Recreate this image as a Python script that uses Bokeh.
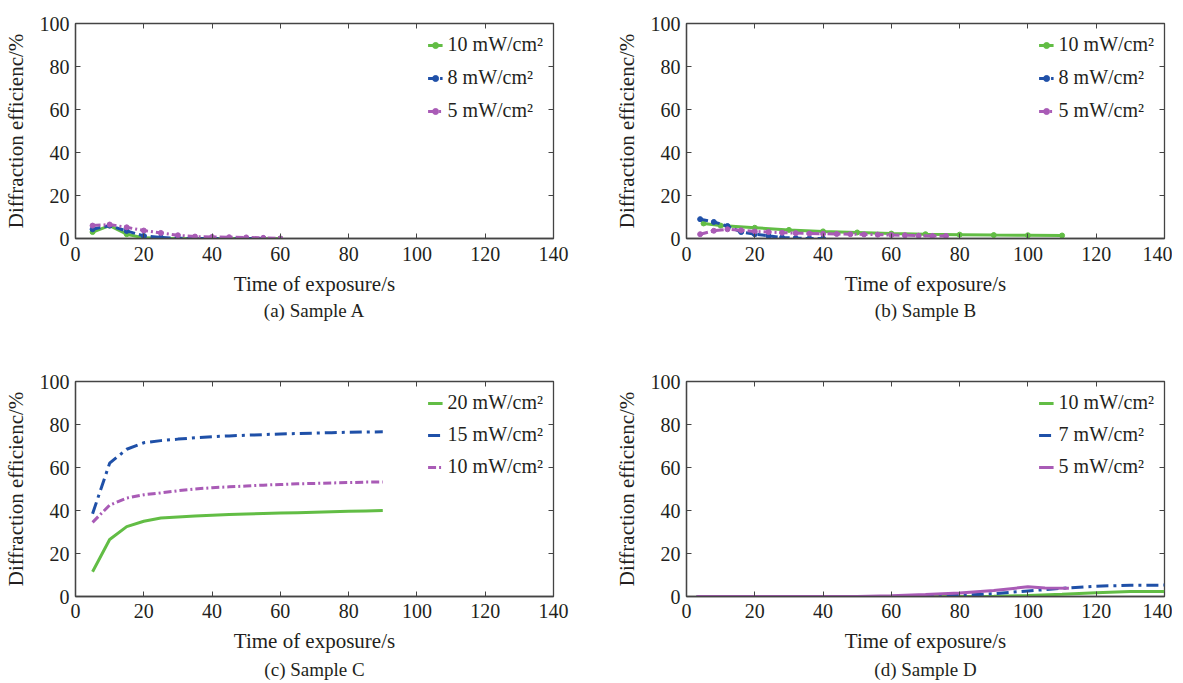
from bokeh.plotting import figure
from bokeh.models import LinearAxis, Range1d, Title, FixedTicker, CustomJSTickFormatter
from bokeh.layouts import column, row
from bokeh.embed import file_html
from bokeh.resources import INLINE

FONT = "Liberation Serif"
TXT = "#231f20"
GREEN = "#62bd45"
BLUE = "#1f50a8"
PURPLE = "#a95bb6"

x_ticks = [0, 20, 40, 60, 80, 100, 120, 140]
y_ticks = [0, 20, 40, 60, 80, 100]
x_label = "Time of exposure/s"
y_label = "Diffraction efficienc/%"

# ---- Sample A ----
a_labels = ["10 mW/cm²", "8 mW/cm²", "5 mW/cm²"]
a_x_10 = [5, 10, 15, 20, 25, 30, 35, 40, 45, 50, 55, 60]
a_y_10 = [3.0, 6.0, 2.0, 0.3, 0.1, 0, 0, 0, 0, 0, 0, 0]
a_x_8 = [5, 10, 15, 20, 25, 30, 35, 40, 45, 50, 55]
a_y_8 = [4.3, 6.0, 3.5, 1.2, 0.5, 0.1, 0, 0, 0, 0, 0]
a_x_5 = [5, 10, 15, 20, 25, 30, 35, 40, 45, 50, 55, 60]
a_y_5 = [6.0, 6.5, 5.2, 3.7, 2.6, 1.5, 0.9, 0.7, 0.6, 0.5, 0.3, 0]

# ---- Sample B ----
b_labels = ["10 mW/cm²", "8 mW/cm²", "5 mW/cm²"]
b_x_10 = [5, 10, 20, 30, 40, 50, 60, 70, 80, 90, 100, 110]
b_y_10 = [7.0, 6.0, 5.0, 4.0, 3.3, 2.8, 2.3, 2.0, 1.8, 1.6, 1.5, 1.4]
b_x_8 = [4, 8, 12, 16, 20, 24, 28, 32, 36, 40]
b_y_8 = [9.0, 7.7, 5.8, 3.0, 2.0, 1.2, 0.5, 0.2, 0, 0]
b_x_5 = [4, 8, 12, 16, 20, 24, 28, 32, 36, 40, 44, 48, 52, 56, 60, 64, 68, 72, 76]
b_y_5 = [2.0, 3.6, 4.3, 3.8, 3.3, 3.0, 2.7, 2.5, 2.3, 2.2, 2.1, 2.0, 1.9, 1.8, 1.6, 1.5, 1.3, 1.2, 1.2]

# ---- Sample C ----
c_labels = ["20 mW/cm²", "15 mW/cm²", "10 mW/cm²"]
c_x = [5, 10, 15, 20, 25, 30, 35, 40, 45, 50, 55, 60, 65, 70, 75, 80, 85, 90]
c_y_20 = [11.5, 26.5, 32.5, 35.0, 36.5, 37.0, 37.4, 37.8, 38.1, 38.4, 38.6, 38.8, 39.0, 39.2, 39.4, 39.6, 39.8, 40.0]
c_y_15 = [38.5, 62.0, 68.5, 71.5, 72.5, 73.2, 73.8, 74.3, 74.7, 75.0, 75.3, 75.6, 75.8, 76.0, 76.2, 76.4, 76.5, 76.6]
c_y_10 = [34.5, 42.5, 45.8, 47.3, 48.2, 49.2, 50.0, 50.6, 51.0, 51.4, 51.8, 52.1, 52.4, 52.6, 52.8, 53.0, 53.2, 53.2]

# ---- Sample D ----
d_labels = ["10 mW/cm²", "7 mW/cm²", "5 mW/cm²"]
d_x_10 = [3, 10, 20, 30, 40, 50, 60, 70, 80, 90, 100, 110, 120, 130, 140]
d_y_10 = [0, 0, 0, 0, 0, 0, 0, 0, 0, 0.1, 0.5, 1.0, 1.8, 2.3, 2.3]
d_x_7 = [3, 10, 20, 30, 40, 50, 60, 70, 80, 90, 100, 110, 120, 130, 140]
d_y_7 = [0, 0, 0, 0, 0, 0, 0, 0.1, 0.5, 1.3, 2.6, 3.8, 4.8, 5.2, 5.3]
d_x_5 = [3, 10, 20, 30, 40, 50, 60, 70, 80, 90, 100, 105, 112]
d_y_5 = [0, 0, 0, 0, 0, 0, 0.3, 0.9, 1.6, 2.8, 4.5, 4.0, 3.8]


def make_panel(caption, fh, left, right, top, bottom, tick_so, label_so, cap_so):
    p = figure(frame_width=478, frame_height=fh, output_backend="svg", toolbar_location=None,
               x_range=Range1d(0, 140), y_range=Range1d(0, 100),
               min_border_left=left, min_border_right=right,
               min_border_top=top, min_border_bottom=bottom)
    p.background_fill_color = "white"
    p.border_fill_color = "white"
    p.grid.visible = False
    p.outline_line_color = "#444444"
    p.outline_line_width = 1.3
    p.xaxis.ticker = FixedTicker(ticks=x_ticks)
    p.yaxis.ticker = FixedTicker(ticks=y_ticks)
    p.xaxis.axis_label = x_label
    p.yaxis.axis_label = y_label
    for ax in (p.xaxis[0], p.yaxis[0]):
        ax.axis_line_color = "#444444"
        ax.axis_line_width = 1.3
        ax.major_tick_in = 5
        ax.major_tick_out = 0
        ax.major_tick_line_color = "#444444"
        ax.minor_tick_line_color = None
        ax.major_label_text_font = FONT
        ax.major_label_text_font_size = "20px"
        ax.major_label_text_color = TXT
        ax.axis_label_text_font = FONT
        ax.axis_label_text_font_size = "21px"
        ax.axis_label_text_font_style = "normal"
        ax.axis_label_text_color = TXT
    p.xaxis.major_label_standoff = tick_so
    p.xaxis.axis_label_standoff = label_so
    p.yaxis.major_label_standoff = 6
    p.yaxis.axis_label_standoff = 9
    top_ax = LinearAxis(ticker=FixedTicker(ticks=x_ticks),
                        formatter=CustomJSTickFormatter(code="return ' '"),
                        major_tick_in=5, major_tick_out=0, minor_tick_line_color=None,
                        axis_line_color=None, major_tick_line_color="#444444",
                        major_label_text_font_size="1px", major_label_standoff=0)
    right_ax = LinearAxis(ticker=FixedTicker(ticks=y_ticks),
                          formatter=CustomJSTickFormatter(code="return ' '"),
                          major_tick_in=5, major_tick_out=0, minor_tick_line_color=None,
                          axis_line_color=None, major_tick_line_color="#444444",
                          major_label_text_font_size="1px", major_label_standoff=0)
    p.add_layout(top_ax, "above")
    p.add_layout(right_ax, "right")
    t = Title(text=caption, align="center", text_font=FONT, text_font_size="19px",
              text_font_style="normal", text_color=TXT, standoff=cap_so)
    p.add_layout(t, "below")
    return p


def style_legend(p, margin, padding, spacing):
    lg = p.legend[0]
    lg.location = "top_right"
    lg.border_line_color = None
    lg.background_fill_alpha = 0
    lg.label_text_font = FONT
    lg.label_text_font_size = "20px"
    lg.label_text_color = TXT
    lg.glyph_width = 15
    lg.glyph_height = 20
    lg.label_height = 20
    lg.label_standoff = 5
    lg.spacing = spacing
    lg.margin = margin
    lg.padding = padding


# Panel A
pA = make_panel("(a) Sample A", 215, 68, 20, 23, 104, 8, 8, -2)
pA.line(a_x_10, a_y_10, color=GREEN, line_width=3, legend_label=a_labels[0])
pA.scatter(a_x_10, a_y_10, color=GREEN, size=5, legend_label=a_labels[0])
pA.line(a_x_8, a_y_8, color=BLUE, line_width=3, line_dash="8 4", legend_label=a_labels[1])
pA.scatter(a_x_8, a_y_8, color=BLUE, size=5, legend_label=a_labels[1])
pA.line(a_x_5, a_y_5, color=PURPLE, line_width=3, line_dash="8 3 2 3", legend_label=a_labels[2])
pA.scatter(a_x_5, a_y_5, color=PURPLE, size=5, legend_label=a_labels[2])
style_legend(pA, 10, 14, 10)

# Panel B
pB = make_panel("(b) Sample B", 215, 113, 8, 23, 104, 8, 8, -2)
pB.line(b_x_10, b_y_10, color=GREEN, line_width=3, legend_label=b_labels[0])
pB.scatter(b_x_10, b_y_10, color=GREEN, size=5, legend_label=b_labels[0])
pB.line(b_x_8, b_y_8, color=BLUE, line_width=3, line_dash="8 4", legend_label=b_labels[1])
pB.scatter(b_x_8, b_y_8, color=BLUE, size=5, legend_label=b_labels[1])
pB.line(b_x_5, b_y_5, color=PURPLE, line_width=3, line_dash="8 3 2 3", legend_label=b_labels[2])
pB.scatter(b_x_5, b_y_5, color=PURPLE, size=5, legend_label=b_labels[2])
style_legend(pB, 10, 14, 10)

# Panel C
pC = make_panel("(c) Sample C", 215, 68, 20, 39, 88, 7, 8, 3)
pC.line(c_x, c_y_20, color=GREEN, line_width=3, legend_label=c_labels[0])
pC.line(c_x, c_y_15, color=BLUE, line_width=3, line_dash="12 5 3 5", legend_label=c_labels[1])
pC.line(c_x, c_y_10, color=PURPLE, line_width=3, line_dash="8 3 2 3", legend_label=c_labels[2])
style_legend(pC, 10, 14, 9)

# Panel D
pD = make_panel("(d) Sample D", 215, 113, 8, 39, 88, 7, 8, 3)
pD.line(d_x_10, d_y_10, color=GREEN, line_width=3, legend_label=d_labels[0])
pD.line(d_x_7, d_y_7, color=BLUE, line_width=3, line_dash="12 5 3 5", legend_label=d_labels[1])
pD.line(d_x_5, d_y_5, color=PURPLE, line_width=3, legend_label=d_labels[2])
style_legend(pD, 10, 14, 9)

layout = column(row(pA, pB), row(pC, pD))
open("out.html", "w").write(file_html(layout, INLINE))
